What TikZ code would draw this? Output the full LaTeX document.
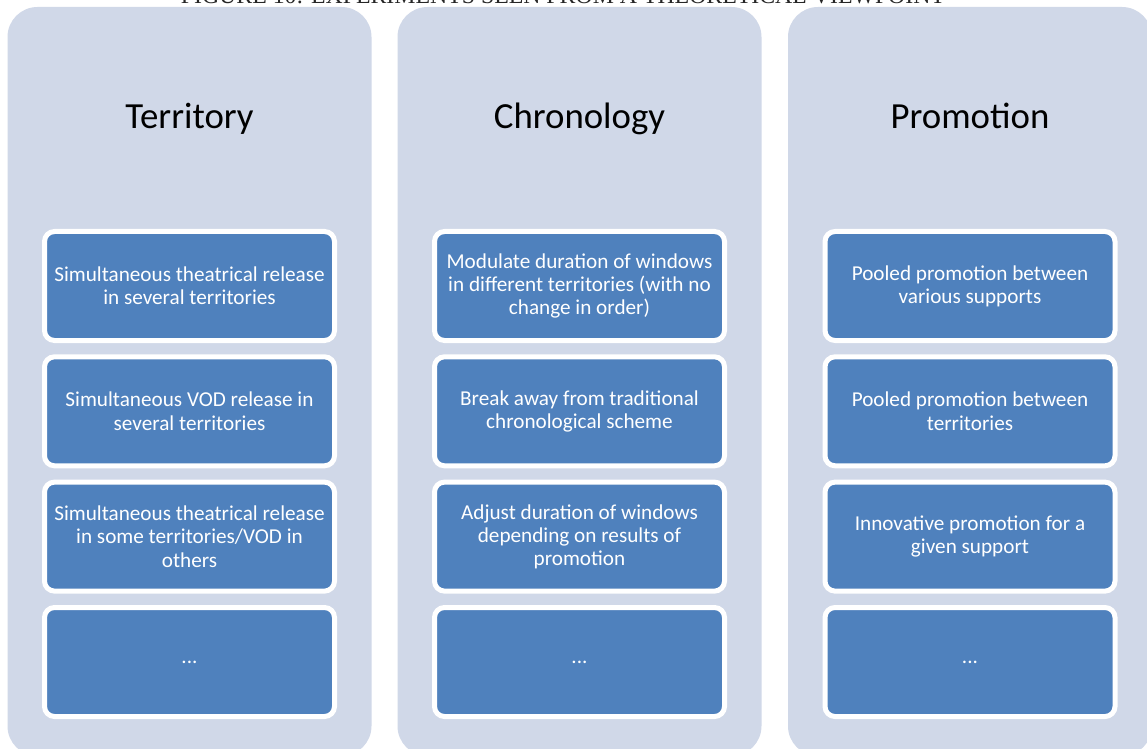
\documentclass[tikz,border=0pt]{standalone}
\usepackage{fontspec}
\setmainfont{Carlito}
\newfontfamily\capfont{Liberation Serif}
\definecolor{colfill}{HTML}{D0D8E8}
\definecolor{boxfill}{HTML}{4F81BD}
\begin{document}
\begin{tikzpicture}[x=0.5pt,y=-0.5pt,
 column/.style={fill=colfill, rounded corners=15pt, minimum width=182pt, minimum height=374.5pt, inner sep=0pt},
 coltitle/.style={font=\fontsize{18.4}{22}\selectfont, anchor=base, text=black, inner sep=0pt},
 item/.style={fill=boxfill, draw=white, line width=2.5pt, rounded corners=5pt, minimum width=145pt, minimum height=54.5pt, align=center, text=white, font=\fontsize{10.6}{11.6}\selectfont, inner sep=0pt},
 caption/.style={font=\capfont\fontsize{11.9}{14}\selectfont, anchor=base, text=black!85, inner sep=0pt}
]
\useasboundingbox (0,0) rectangle (1147,749);
\clip (0,0) rectangle (1147,749);
\fill[white] (0,0) rectangle (1147,749);

\node[caption] (cap) at (563,4) {FIGURE 10: EXPERIMENTS SEEN FROM A THEORETICAL VIEWPOINT};

\node[column] (c1) at (189.5,381.5) {};
\node[column] (c2) at (579.5,381.5) {};
\node[column] (c3) at (970,381.5) {};

\node[coltitle] (t1) at (189.5,129) {Territory};
\node[coltitle] (t2) at (579.5,129) {Chronology};
\node[coltitle] (t3) at (970,129) {Promotion};

\node[item] (a1) at (189.5,286) {Simultaneous theatrical release\\in several territories};
\node[item] (a2) at (189.5,411.3) {Simultaneous VOD release in\\several territories};
\node[item] (a3) at (189.5,536.6) {Simultaneous theatrical release\\in some territories/VOD in\\others};
\node[item] (a4) at (189.5,662) {...};

\node[item] (b1) at (579.5,286) {Modulate duration of windows\\in different territories (with no\\change in order)};
\node[item] (b2) at (579.5,411.3) {Break away from traditional\\chronological scheme};
\node[item] (b3) at (579.5,536.6) {Adjust duration of windows\\depending on results of\\promotion};
\node[item] (b4) at (579.5,662) {...};

\node[item] (d1) at (970,286) {Pooled promotion between\\various supports};
\node[item] (d2) at (970,411.3) {Pooled promotion between\\territories};
\node[item] (d3) at (970,536.6) {Innovative promotion for a\\given support};
\node[item] (d4) at (970,662) {...};
\end{tikzpicture}
\end{document}
